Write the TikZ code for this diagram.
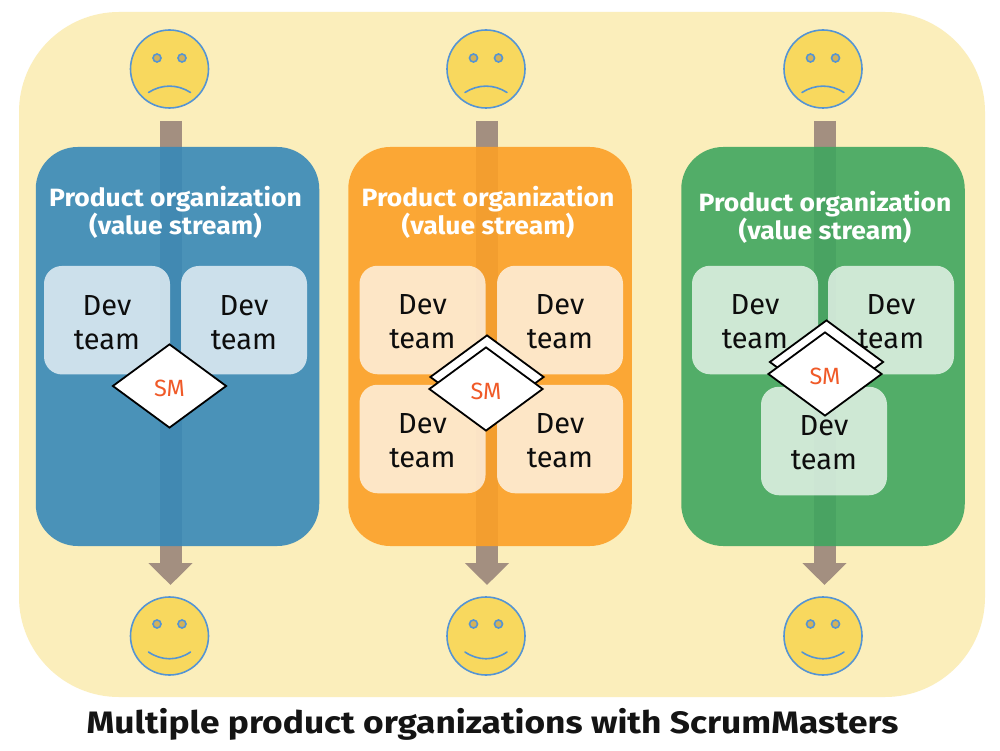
\documentclass[tikz,border=0pt]{standalone}
\usepackage{fontspec}
\setmainfont{Fira Sans}
\newfontfamily\widefam[FakeStretch=1.06]{Fira Sans}
\newfontfamily\widerfam[FakeStretch=1.14]{Fira Sans}
\usetikzlibrary{shapes.geometric,arrows.meta}
\definecolor{bgY}{RGB}{251,238,187}
\definecolor{pBlue}{RGB}{55,137,184}
\definecolor{pOrange}{RGB}{252,160,39}
\definecolor{pGreen}{RGB}{64,166,95}
\definecolor{arrowC}{RGB}{163,143,128}
\definecolor{faceC}{RGB}{248,216,94}
\definecolor{lineC}{RGB}{84,148,212}
\definecolor{eyeC}{RGB}{212,178,88}
\definecolor{smC}{RGB}{240,90,40}
\newcommand\devtext{\rule{0pt}{24pt}Dev\\team}
\newcommand\smtext{\rule{0pt}{20.5pt}SM}
\tikzset{
 panel/.style={minimum width=283.5pt,minimum height=399pt,rounded corners=42pt,fill opacity=.9,inner sep=0pt,outer sep=0pt},
 devbox/.style={minimum width=126pt,minimum height=108.5pt,rounded corners=18pt,fill=white,fill opacity=.72,text opacity=1,inner sep=0pt,align=center,font=\fontsize{29}{34}\selectfont,text=black!95},
 ptitle/.style={align=center,text=white,font=\widefam\fontsize{25}{28.5}\selectfont\bfseries,inner sep=0pt},
 smd/.style={diamond,draw=black,line width=1.8pt,fill=white,minimum width=114pt,minimum height=84pt,inner sep=0pt,text=smC,font=\fontsize{23.5}{26}\selectfont},
 face/.style={circle,draw=lineC,line width=1.6pt,fill=faceC,minimum size=78pt,inner sep=0pt},
 eye/.style={circle,draw=lineC,line width=1.6pt,fill=eyeC,minimum size=8pt,inner sep=0pt},
 flow/.style={draw=arrowC,line width=22pt,-{Triangle[length=22pt,width=43pt,color=arrowC]}},
 mouth/.style={draw=lineC,line width=1.6pt,line cap=round},
}
\begin{document}
\begin{tikzpicture}[x=1pt,y=-1pt]
\useasboundingbox (0,0) rectangle (1000,751);
\fill[white] (0,0) rectangle (1000,751);
\node[fill=bgY,minimum width=966pt,minimum height=685pt,rounded corners=100pt,inner sep=0pt] (bg) at (502,354.5) {};

% flows
\foreach \n/\x in {a/170.5,b/487,c/824.5}{
  \coordinate (\n from) at (\x,121);
  \coordinate (\n to) at (\x,585);
  \path[flow] (\n from) -- (\n to);
}

% panels
\node[panel,fill=pBlue] (pa) at (177.5,346.5) {};
\node[panel,fill=pOrange] (pb) at (490,346.5) {};
\node[panel,fill=pGreen] (pc) at (823,346.5) {};

% faces
\foreach \n/\x in {a/169.5,b/486,c/823}{
  \node[face] (sad\n) at (\x,69) {};
  \node[eye] (sad\n l) at (\x-12.5,58) {};
  \node[eye] (sad\n r) at (\x+12.5,58) {};
  \draw[mouth] (\x-21,92.5) .. controls (\x-8,84) and (\x+8,84) .. (\x+21,92.5);
  \node[face] (hap\n) at (\x,636) {};
  \node[eye] (hap\n l) at (\x-12.5,624) {};
  \node[eye] (hap\n r) at (\x+12.5,624) {};
  \draw[mouth] (\x-21,652) .. controls (\x-8,661) and (\x+8,661) .. (\x+21,652);
}

% titles
\node[ptitle] (ta) at (175.5,212.5) {Product organization\\(value stream)};
\node[ptitle] (tb) at (488,212.5) {Product organization\\(value stream)};
\node[ptitle] (tc) at (825,217.5) {Product organization\\(value stream)};

% dev teams
\node[devbox] (d1) at (107,320.2) {\devtext};
\node[devbox] (d2) at (244,320.2) {\devtext};
\node[devbox] (d3) at (422.5,320) {\devtext};
\node[devbox] (d4) at (560,320) {\devtext};
\node[devbox] (d5) at (422.5,439) {\devtext};
\node[devbox] (d6) at (560,439) {\devtext};
\node[devbox] (d7) at (755,320) {\devtext};
\node[devbox] (d8) at (891,320) {\devtext};
\node[devbox] (d9) at (824,441) {\devtext};

% SM diamonds
\node[smd] (sm1) at (169.5,386) {\smtext};
\node[smd] (sm2b) at (487,377) {};
\node[smd] (sm2) at (486,389) {\smtext};
\node[smd] (sm3b) at (826.5,362) {};
\node[smd] (sm3) at (825,374) {\smtext};

\node[inner sep=0pt,font=\widerfam\fontsize{31}{36}\selectfont\bfseries,text=black!92] (title) at (492.5,724.5) {Multiple product organizations with ScrumMasters};
\end{tikzpicture}
\end{document}
